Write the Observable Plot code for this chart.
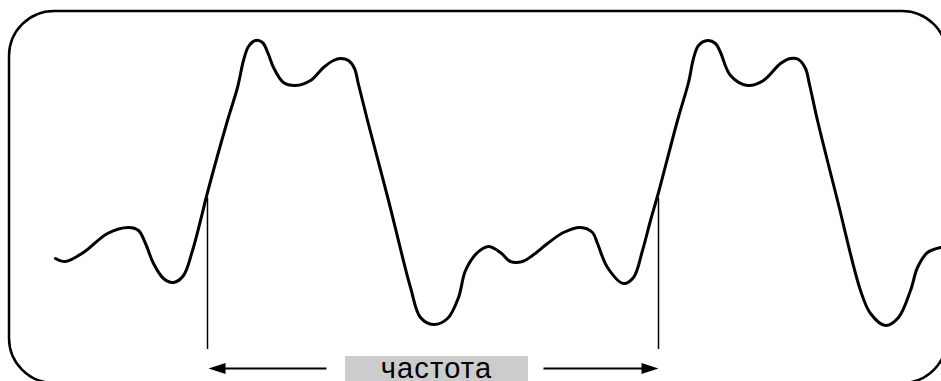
<!DOCTYPE html>
<html>
<head>
<meta charset="utf-8">
<script src="https://cdn.jsdelivr.net/npm/d3@7"></script>
<script src="https://cdn.jsdelivr.net/npm/@observablehq/plot@0.6"></script>
<style>
  html, body { margin: 0; padding: 0; background: #ffffff; }
  #chart svg { display: block; overflow: hidden; }
</style>
</head>
<body>
<div id="chart"></div>
<script>
// Signal trace (time, level) — level measured downward on the sheet
const signalT = [55, 65, 83, 107, 128, 138, 145, 153, 163, 173, 183, 192, 200, 207, 227, 237, 243, 248, 255, 262, 268, 273, 283, 295, 310, 323, 333, 340, 348, 354, 358, 367, 388, 410, 420, 433, 447, 458, 465, 477, 488, 500, 510, 522, 532, 547, 563, 580, 592, 597, 607, 623, 633, 642, 650, 658, 677, 688, 693, 698, 707, 715, 720, 730, 747, 763, 780, 790, 798, 805, 809, 817, 837, 860, 870, 885, 898, 910, 917, 927, 940];
const signalV = [258, 261, 252, 233, 227, 230, 243, 263, 278, 282, 275, 250, 220, 192, 120, 87, 60, 46, 40, 42, 54, 67, 82, 85, 80, 67, 60, 58, 60, 68, 84, 120, 200, 287, 317, 324, 318, 297, 270, 252, 246, 252, 261, 261, 255, 243, 232, 227, 232, 243, 267, 283, 277, 250, 220, 192, 120, 82, 58, 45, 40, 43, 52, 75, 85, 80, 63, 58, 59, 68, 84, 120, 200, 290, 313, 325, 317, 290, 267, 252, 247];

// Period markers
const markerT = [207, 658];
const markerTop = 198;
const markerBottom = 349;

// Frequency annotation
const labelText = "частота";
const arrowLevel = 368;
const arrowLeft = [208, 326];   // tip, tail
const arrowRight = [543, 658];  // tail, tip
const labelBox = {x1: 345, x2: 528, y1: 356, y2: 395};
const labelX = 436;
const labelBaseline = 377;

// Frame of the figure
const frameBox = {x1: 9, x2: 947, y1: 11, y2: 383};

const signal = signalT.map((t, i) => ({t, v: signalV[i]}));

const arrowHead = {
  draw(context) {
    context.moveTo(0, 0);
    context.lineTo(-17, -5.5);
    context.lineTo(-17, 5.5);
    context.closePath();
  }
};

const chart = Plot.plot({
  width: 941,
  height: 381,
  margin: 0,
  x: {domain: [0, 941], range: [0, 941], axis: null},
  y: {domain: [0, 381], range: [0, 381], axis: null},
  style: {background: "#ffffff"},
  marks: [
    Plot.rect([frameBox], {x1: "x1", x2: "x2", y1: "y1", y2: "y2", rx: 45, fill: "none", stroke: "#000", strokeWidth: 2.5}),
    Plot.line(signal, {x: "t", y: "v", curve: "catmull-rom", stroke: "#000", strokeWidth: 3, strokeLinecap: "round", strokeLinejoin: "round"}),
    Plot.ruleX(markerT, {x: d => d, y1: markerTop, y2: markerBottom, stroke: "#000", strokeWidth: 1.5}),
    Plot.link([{x1: arrowLeft[0] + 10, x2: arrowLeft[1]}, {x1: arrowRight[0], x2: arrowRight[1] - 10}],
      {x1: "x1", x2: "x2", y1: arrowLevel, y2: arrowLevel, stroke: "#000", strokeWidth: 2}),
    Plot.dot([arrowLeft[0]], {x: d => d, y: arrowLevel, symbol: arrowHead, rotate: 180, fill: "#000", stroke: "none"}),
    Plot.dot([arrowRight[1]], {x: d => d, y: arrowLevel, symbol: arrowHead, rotate: 0, fill: "#000", stroke: "none"}),
    Plot.rect([labelBox], {x1: "x1", x2: "x2", y1: "y1", y2: "y2", fill: "#cccccc"}),
    Plot.text([labelText], {x: labelX, y: labelBaseline, text: d => d, lineAnchor: "bottom", textAnchor: "middle",
      fontSize: 29, fontFamily: "Liberation Sans, Arial, sans-serif", fill: "#000",
      render: (index, scales, values, dims, context, next) => {
        const g = next(index, scales, values, dims, context);
        g.querySelectorAll("text").forEach(t => t.setAttribute("letter-spacing", "1.2"));
        return g;
      }})
  ]
});
document.getElementById("chart").appendChild(chart);
</script>
</body>
</html>
